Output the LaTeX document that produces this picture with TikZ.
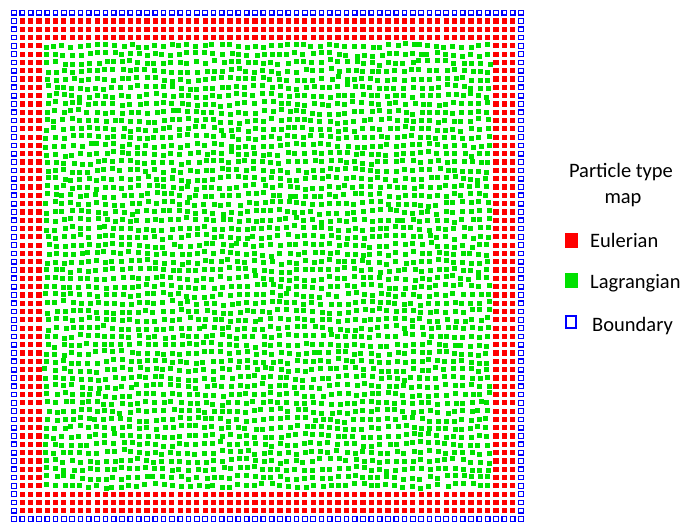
\documentclass[tikz,border=0pt]{standalone}
\usepackage{fontspec}
\setmainfont{Carlito}
\definecolor{eulred}{RGB}{255,0,0}
\definecolor{laggreen}{RGB}{0,225,0}
\definecolor{bndblue}{RGB}{0,0,255}
\tikzset{
  eul/.style={fill=eulred},
  lag/.style={fill=laggreen},
  bnd/.style={draw=bndblue, line width=1.2pt},
  legtext/.style={font=\fontsize{20.5}{24}\selectfont, anchor=base west, inner sep=0pt},
  legtitle/.style={font=\fontsize{20.5}{24}\selectfont, anchor=base, inner sep=0pt}
}
\begin{document}
\begin{tikzpicture}[x=1pt,y=-1pt]
\useasboundingbox (0,0) rectangle (688,524);
\pgfmathsetseed{7}
% boundary ring
\foreach \i in {0,...,61}{
  \pgfmathsetmacro\px{14+8.31*\i}
  \pgfmathsetmacro\py{12.7+8.3*\i}
  \draw[bnd] ({\px-2.3},{12.7-2.3}) rectangle ++(4.6,4.6);
  \draw[bnd] ({\px-2.3},{519-2.3}) rectangle ++(4.6,4.6);
  \draw[bnd] ({14-2.3},{\py-2.3}) rectangle ++(4.6,4.6);
  \draw[bnd] ({521-2.3},{\py-2.3}) rectangle ++(4.6,4.6);
}
% Eulerian rings and Lagrangian interior
\foreach \i in {1,...,60}{
  \foreach \j in {1,...,60}{
    \pgfmathtruncatemacro\d{min(\i,\j,61-\i,61-\j)}
    \ifnum\d<4
      \fill[eul] ({14+8.31*\i-2.6},{12.7+8.3*\j-2.6}) rectangle ++(5.2,5.2);
    \else
      \pgfmathsetmacro\dx{1.5*rand+1.2*sin(37*\j+23*\i)}
      \pgfmathsetmacro\dy{1.5*rand+1.2*cos(29*\i-31*\j)}
      \fill[lag] ({14+8.31*\i+\dx-2.5},{12.7+8.3*\j+\dy-2.5}) rectangle ++(5.0,5.0);
    \fi
  }
}
% legend
\node[legtitle] (t1) at (621,177) {Particle type};
\node[legtitle] (t2) at (623,203) {map};
\fill[eul] (565,233) rectangle (578,248);
\fill[lag] (565,273) rectangle (578,288);
\draw[bnd, line width=2pt] (566,316) rectangle (576,328);
\node[legtext] (e) at (590,247) {Eulerian};
\node[legtext] (l) at (590,288) {Lagrangian};
\node[legtext] (b) at (592,331) {Boundary};
\end{tikzpicture}
\end{document}
